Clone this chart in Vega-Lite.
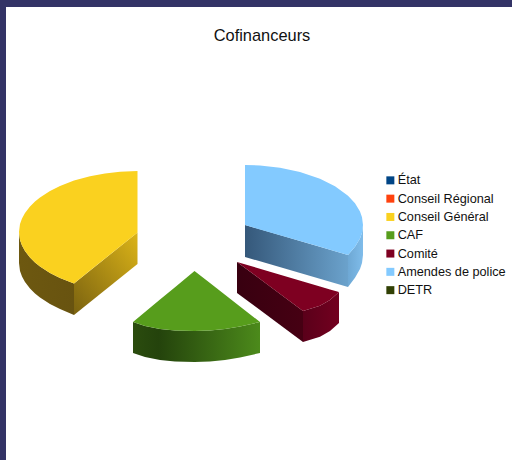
{"$schema":"https://vega.github.io/schema/vega-lite/v6.json","width":512,"height":460,"autosize":{"type":"fit","contains":"padding"},"padding":0,"background":"white","config":{"view":{"stroke":null}},
"datasets":{"frame":[{"x":0,"x2":6,"y":0,"y2":460},{"x":0,"x2":512,"y":0,"y2":7}],
"tops":[
{"s":"Conseil Général","x":19,"y":232,"y2":232},{"s":"Conseil Général","x":20,"y":224.1,"y2":239.9},{"s":"Conseil Général","x":22,"y":218.4,"y2":245.6},{"s":"Conseil Général","x":25,"y":212.9,"y2":251.1},{"s":"Conseil Général","x":30,"y":206.4,"y2":257.6},{"s":"Conseil Général","x":35,"y":201.5,"y2":262.5},{"s":"Conseil Général","x":40,"y":197.4,"y2":266.6},{"s":"Conseil Général","x":50,"y":190.9,"y2":273.1},{"s":"Conseil Général","x":60,"y":185.9,"y2":278.1},{"s":"Conseil Général","x":74,"y":180.6,"y2":283.4},{"s":"Conseil Général","x":90,"y":176.2,"y2":270.5},{"s":"Conseil Général","x":105,"y":173.4,"y2":258.5},{"s":"Conseil Général","x":120,"y":171.7,"y2":246.5},{"s":"Conseil Général","x":137.5,"y":171,"y2":232.5},
{"s":"CAF","x":133,"y":322,"y2":322},{"s":"CAF","x":145,"y":312,"y2":326},{"s":"CAF","x":160,"y":299.6,"y2":329},{"s":"CAF","x":175,"y":287.2,"y2":330.5},{"s":"CAF","x":194.5,"y":271,"y2":331},{"s":"CAF","x":210,"y":283.1,"y2":330.5},{"s":"CAF","x":225,"y":294.8,"y2":329},{"s":"CAF","x":240,"y":306.4,"y2":326.5},{"s":"CAF","x":260,"y":322,"y2":322},
{"s":"Comité","x":237,"y":262,"y2":262},{"s":"Comité","x":270,"y":271.7,"y2":286.5},{"s":"Comité","x":303,"y":281.4,"y2":311},{"s":"Comité","x":320,"y":286.4,"y2":305.7},{"s":"Comité","x":330,"y":289.4,"y2":300},{"s":"Comité","x":339,"y":292,"y2":292},
{"s":"Amendes de police","x":245,"y":165,"y2":225},{"s":"Amendes de police","x":260,"y":165.5,"y2":229.4},{"s":"Amendes de police","x":280,"y":167.7,"y2":235.2},{"s":"Amendes de police","x":300,"y":171.9,"y2":241},{"s":"Amendes de police","x":320,"y":178.7,"y2":246.8},{"s":"Amendes de police","x":335,"y":186.2,"y2":251.2},{"s":"Amendes de police","x":348,"y":195.7,"y2":255},{"s":"Amendes de police","x":355,"y":203.3,"y2":246.7},{"s":"Amendes de police","x":360,"y":211.6,"y2":238.4},{"s":"Amendes de police","x":362,"y":217.2,"y2":232.8},{"s":"Amendes de police","x":363,"y":225,"y2":225}],
"walls":[
{"w":"yl","x":19,"y":232,"y2":263},{"w":"yl","x":20,"y":239.9,"y2":270.9},{"w":"yl","x":22,"y":245.6,"y2":276.6},{"w":"yl","x":25,"y":251.1,"y2":282.1},{"w":"yl","x":30,"y":257.6,"y2":288.6},{"w":"yl","x":35,"y":262.5,"y2":293.5},{"w":"yl","x":40,"y":266.6,"y2":297.6},{"w":"yl","x":50,"y":273.1,"y2":304.1},{"w":"yl","x":60,"y":278.1,"y2":309.1},{"w":"yl","x":74,"y":283.4,"y2":315},
{"w":"yr","x":74,"y":283.4,"y2":315},{"w":"yr","x":137.5,"y":232.5,"y2":264},
{"w":"g","x":133,"y":322,"y2":353},{"w":"g","x":145,"y":326,"y2":357},{"w":"g","x":160,"y":329,"y2":360},{"w":"g","x":175,"y":330.5,"y2":361.5},{"w":"g","x":194.5,"y":331,"y2":362},{"w":"g","x":210,"y":330.5,"y2":361.5},{"w":"g","x":225,"y":329,"y2":360},{"w":"g","x":240,"y":326.5,"y2":357.5},{"w":"g","x":260,"y":322,"y2":353},
{"w":"rl","x":237,"y":262,"y2":293},{"w":"rl","x":303,"y":311,"y2":342},
{"w":"rr","x":303,"y":311,"y2":342},{"w":"rr","x":320,"y":305.7,"y2":336.7},{"w":"rr","x":330,"y":300,"y2":331},{"w":"rr","x":339,"y":292,"y2":323},
{"w":"bf","x":245,"y":225,"y2":257},{"w":"bf","x":348,"y":255,"y2":287},
{"w":"br","x":348,"y":255,"y2":287},{"w":"br","x":355,"y":246.7,"y2":277.7},{"w":"br","x":360,"y":238.4,"y2":269},{"w":"br","x":362,"y":232.8,"y2":263},{"w":"br","x":363,"y":225,"y2":255}]},
"data":{"name":"tops"},
"encoding":{"x":{"field":"x","type":"quantitative","scale":{"domain":[0,512],"nice":false,"zero":false},"axis":null},"y":{"field":"y","type":"quantitative","scale":{"domain":[0,460],"reverse":true,"nice":false,"zero":false},"axis":null},"y2":{"field":"y2"}},
"layer":[
{"data":{"name":"frame"},"mark":{"type":"rect","color":"#333366"},"encoding":{"x2":{"field":"x2"}}},
{"data":{"name":"walls"},"transform":[{"filter":"datum.w==='yl'"}],"mark":{"type":"area","orient":"vertical","fill":{"gradient":"linear","x1":0,"x2":1,"y1":0,"y2":0,"stops":[{"offset":0,"color":"#6d5810"},{"offset":1,"color":"#685310"}]}}},
{"data":{"name":"walls"},"transform":[{"filter":"datum.w==='yr'"}],"mark":{"type":"area","orient":"vertical","fill":{"gradient":"linear","x1":0,"x2":1,"y1":1,"y2":0,"stops":[{"offset":0,"color":"#7a6210"},{"offset":1,"color":"#dcb418"}]}}},
{"data":{"name":"walls"},"transform":[{"filter":"datum.w==='g'"}],"mark":{"type":"area","orient":"vertical","fill":{"gradient":"linear","x1":0,"x2":1,"y1":0,"y2":0,"stops":[{"offset":0,"color":"#2b4c0e"},{"offset":0.2,"color":"#24430c"},{"offset":1,"color":"#4c8a1b"}]}}},
{"data":{"name":"walls"},"transform":[{"filter":"datum.w==='rl'"}],"mark":{"type":"area","orient":"vertical","fill":{"gradient":"linear","x1":0,"x2":1,"y1":0,"y2":0,"stops":[{"offset":0,"color":"#380010"},{"offset":1,"color":"#460013"}]}}},
{"data":{"name":"walls"},"transform":[{"filter":"datum.w==='rr'"}],"mark":{"type":"area","orient":"vertical","fill":{"gradient":"linear","x1":0,"x2":1,"y1":0,"y2":0,"stops":[{"offset":0,"color":"#5a001a"},{"offset":1,"color":"#73001f"}]}}},
{"data":{"name":"walls"},"transform":[{"filter":"datum.w==='bf'"}],"mark":{"type":"area","orient":"vertical","fill":{"gradient":"linear","x1":0,"x2":1,"y1":0,"y2":0,"stops":[{"offset":0,"color":"#35587a"},{"offset":1,"color":"#6ba2cc"}]}}},
{"data":{"name":"walls"},"transform":[{"filter":"datum.w==='br'"}],"mark":{"type":"area","orient":"vertical","fill":{"gradient":"linear","x1":0,"x2":1,"y1":0,"y2":0,"stops":[{"offset":0,"color":"#6ea8d4"},{"offset":1,"color":"#7fbcea"}]}}},
{"mark":{"type":"area","orient":"vertical"},"encoding":{"fill":{"field":"s","type":"nominal","sort":null,"scale":{"domain":["État","Conseil Régional","Conseil Général","CAF","Comité","Amendes de police","DETR"],"range":["#004586","#ff420e","#fad11f","#579d1c","#7e0021","#83caff","#314004"]},"legend":{"title":null,"orient":"none","legendX":384,"legendY":174,"symbolType":"square","symbolSize":64,"symbolStrokeWidth":0,"labelFont":"Liberation Sans","labelFontSize":12.7,"labelColor":"#111111","labelOffset":1,"rowPadding":4.3,"labelLimit":200}}}},
{"data":{"values":[{"t":"Cofinanceurs","x":262,"y":41}]},"mark":{"type":"text","font":"Liberation Sans","fontSize":16.4,"color":"#111111","align":"center","baseline":"alphabetic"},"encoding":{"text":{"field":"t"},"y2":null}}
]}
